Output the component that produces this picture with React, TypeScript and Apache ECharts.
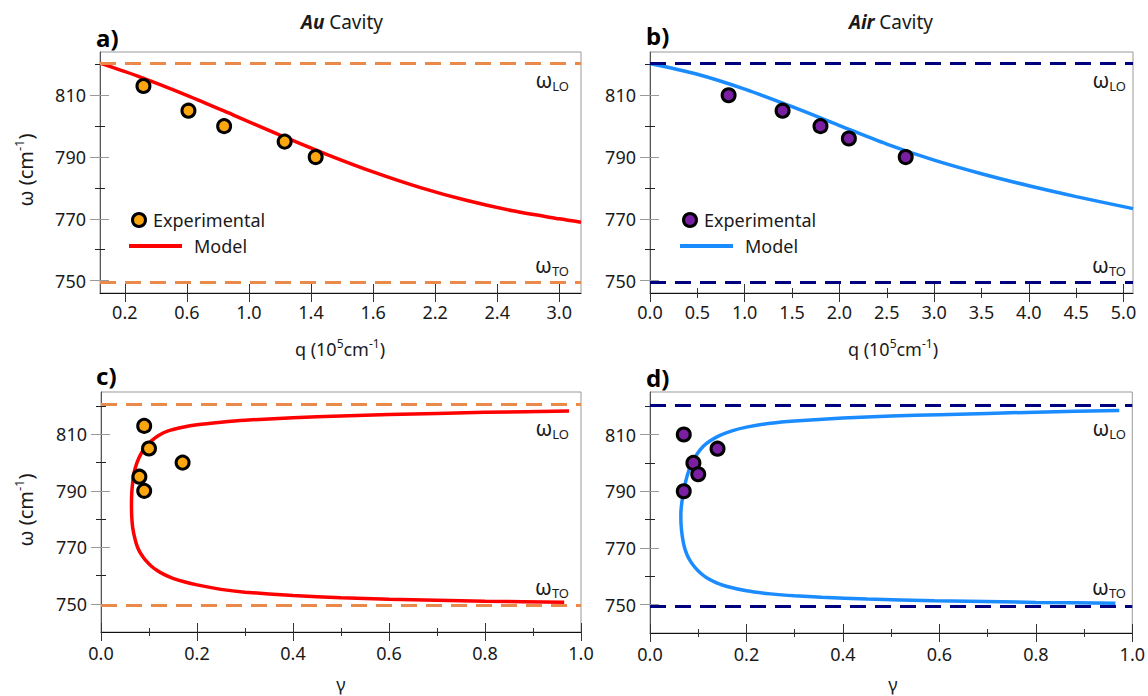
import React, { useEffect, useRef } from "react";
import * as echarts from "echarts";

// Reststrahlen band limits (cm^-1)
const W_LO = 820.5;
const W_TO = 749.5;

// a) Au cavity: frequency vs in-plane wavevector q (10^5 cm^-1)
const auExpQ = [0.32, 0.61, 0.84, 1.23, 1.43];
const auExpW = [813, 805, 800, 795, 790];
const auModelQ = [0.04, 0.3, 0.6, 0.9, 1.2, 1.5, 1.8, 2.1, 2.4, 2.7, 3.0, 3.14];
const auModelW = [820.4, 815.9, 810.0, 803.6, 797.1, 790.9, 785.2, 780.2, 776.0, 772.6, 770.0, 768.9];
const auTickVals = [0.2, 0.6, 1.0, 1.4, 1.8, 2.2, 2.6, 3.0];
const auTickText = ["0.2", "0.6", "1.0", "1.4", "1.6", "2.2", "2.4", "3.0"];

// b) Air cavity: frequency vs q
const airExpQ = [0.83, 1.4, 1.8, 2.1, 2.7];
const airExpW = [810, 805, 800, 796, 790];
const airModelQ = [0, 0.5, 1.0, 1.5, 2.0, 2.5, 3.0, 3.5, 4.0, 4.5, 5.1];
const airModelW = [820.3, 816.8, 812.0, 806.3, 800.2, 794.2, 789.0, 784.6, 780.7, 777.2, 773.3];

// c) Au cavity: frequency vs damping ratio gamma (model traced from upper to lower branch)
const auExpG = [0.09, 0.1, 0.17, 0.08, 0.09];
const auModelG = [
  0.975, 0.8, 0.6, 0.5, 0.4, 0.3, 0.25, 0.2, 0.17, 0.14, 0.12, 0.105, 0.093, 0.083, 0.075,
  0.069, 0.066, 0.064, 0.0635, 0.064, 0.066, 0.07, 0.075, 0.081, 0.088, 0.095, 0.105, 0.117,
  0.13, 0.15, 0.175, 0.2, 0.25, 0.3, 0.4, 0.5, 0.6, 0.8, 0.965,
];
const auModelGW = [
  818.3, 817.8, 817.0, 816.5, 815.9, 815.0, 814.3, 813.4, 812.5, 811.2, 809.6, 807.7, 805.5,
  803.0, 800.0, 796.5, 793.0, 789.0, 785.0, 781.0, 777.0, 773.5, 770.5, 768.3, 766.5, 765.0,
  763.3, 761.8, 760.5, 759.0, 757.7, 756.7, 755.1, 754.1, 752.9, 752.1, 751.6, 750.9, 750.5,
];

// d) Air cavity: frequency vs gamma
const airExpG = [0.07, 0.14, 0.09, 0.1, 0.07];
const airModelG = [
  0.973, 0.8, 0.6, 0.5, 0.4, 0.3, 0.25, 0.2, 0.17, 0.145, 0.125, 0.11, 0.098, 0.088, 0.08,
  0.074, 0.07, 0.066, 0.064, 0.0645, 0.067, 0.071, 0.077, 0.085, 0.095, 0.107, 0.12, 0.138,
  0.16, 0.2, 0.25, 0.3, 0.356, 0.45, 0.59, 0.8, 0.965,
];
const airModelGW = [
  818.5, 817.9, 817.0, 816.5, 815.8, 814.8, 814.0, 812.6, 811.3, 809.7, 807.8, 805.8, 803.2,
  800.2, 797.0, 793.5, 790.0, 786.0, 782.0, 778.0, 774.0, 770.5, 767.5, 765.0, 762.8, 760.8,
  759.2, 757.7, 756.4, 754.9, 753.8, 753.1, 752.6, 752.0, 751.4, 750.8, 750.5,
];

const yLabelVals = [750, 770, 790, 810];
const yMinorVals = [760, 780, 800, 820];
const qAirLabelVals = [0, 0.5, 1, 1.5, 2, 2.5, 3, 3.5, 4, 4.5, 5];
const qAirMajor = [0, 1, 2, 3, 4, 5];
const qAirMinor = [0.5, 1.5, 2.5, 3.5, 4.5];
const gLabelVals = [0, 0.2, 0.4, 0.6, 0.8, 1.0];
const gMinorVals = [0.1, 0.3, 0.5, 0.7, 0.9];

const FONT = "'Noto Sans', 'Open Sans', sans-serif";
const RED = "#ff0000";
const BLUE = "#1a8cff";
const ORANGE = "#e98a4a";
const NAVY = "#00007f";
const GOLD = "#fca60f";
const PURPLE = "#7b1fa2";

const zip = (a: number[], b: number[]) => a.map((v, i) => [v, b[i]]);
const fix1 = (v: number) => v.toFixed(1);

type AxisSpec = {
  min: number;
  max: number;
  labels: number[];
  fmt: (v: number) => string;
  major: number[];
  minor: number[];
  majorColor: string;
  minorColor: string;
  lineColor: string;
  majorOut: number;
  majorIn: number;
  minorLen: number;
  margin: number;
};

// One axis carries the line and labels; three helpers add ticks that cross the axis line.
function axisGroup(dim: "x" | "y", gridIndex: number, s: AxisSpec) {
  const position = dim === "x" ? "bottom" : "left";
  const tickOnly = (values: number[], inside: boolean, length: number, color: string) => ({
    type: "value",
    gridIndex,
    min: s.min,
    max: s.max,
    position,
    axisLine: { show: false, onZero: false },
    axisLabel: { show: false },
    splitLine: { show: false },
    axisTick: { show: true, inside, length, customValues: values, lineStyle: { color, width: 1 } },
  });
  return [
    {
      type: "value",
      gridIndex,
      min: s.min,
      max: s.max,
      position,
      axisLine: { show: true, onZero: false, lineStyle: { color: s.lineColor, width: 1 } },
      axisTick: {
        show: true,
        inside: false,
        length: s.majorOut,
        customValues: s.major,
        lineStyle: { color: s.majorColor, width: 1 },
      },
      axisLabel: {
        customValues: s.labels,
        formatter: s.fmt,
        fontFamily: FONT,
        fontSize: 18,
        color: "#1a1a1a",
        margin: s.margin,
      },
      splitLine: { show: false },
    },
    tickOnly(s.major, true, s.majorIn, s.majorColor),
    tickOnly(s.minor, false, s.minorLen, s.minorColor),
    tickOnly(s.minor, true, s.minorLen, s.minorColor),
  ];
}

const ySpec = (min: number, max: number): AxisSpec => ({
  min,
  max,
  labels: yLabelVals,
  fmt: (v: number) => String(v),
  major: yLabelVals,
  minor: yMinorVals,
  majorColor: "#9a9a9a",
  minorColor: "#222",
  lineColor: "#555",
  majorOut: 10,
  majorIn: 9,
  minorLen: 5,
  margin: 14,
});

const auText = (v: number) => {
  const i = auTickVals.findIndex((t) => Math.abs(t - v) < 1e-6);
  return i >= 0 ? auTickText[i] : "";
};

function panelSeries(
  g: number,
  model: number[][],
  exp: number[][],
  lineColor: string,
  dashColor: string,
  dotColor: string,
  smooth: number
) {
  const xi = g * 4;
  const yi = g * 4;
  return [
    {
      type: "line",
      xAxisIndex: xi,
      yAxisIndex: yi,
      data: [],
      silent: true,
      z: 2,
      markLine: {
        silent: true,
        symbol: ["none", "none"],
        label: { show: false },
        lineStyle: { color: dashColor, width: 3, type: [16, 9] },
        data: [{ yAxis: W_LO }, { yAxis: W_TO }],
      },
    },
    {
      type: "line",
      xAxisIndex: xi,
      yAxisIndex: yi,
      data: model,
      showSymbol: false,
      smooth,
      silent: true,
      z: 3,
      lineStyle: { color: lineColor, width: 3.5 },
    },
    {
      type: "scatter",
      xAxisIndex: xi,
      yAxisIndex: yi,
      data: exp,
      symbol: "circle",
      symbolSize: 13,
      z: 5,
      itemStyle: { color: dotColor, borderColor: "#000", borderWidth: 3, opacity: 1 },
    },
  ];
}

const txt = (text: string, x: number, y: number, extra: any = {}) => ({
  type: "text",
  x,
  y,
  z: 10,
  style: {
    text,
    fill: "#1a1a1a",
    fontFamily: FONT,
    fontSize: 18,
    align: "center",
    verticalAlign: "middle",
    ...extra,
  },
});

const omega = (sub: string, right: number, y: number) =>
  txt(`{w|ω}{s|${sub}}`, right, y, {
    align: "right",
    rich: {
      w: { fontSize: 21, lineHeight: 24, fontFamily: FONT, fill: "#1a1a1a" },
      s: { fontSize: 13, lineHeight: 11, fontFamily: FONT, fill: "#1a1a1a", verticalAlign: "bottom" },
    },
  });

const yName = (y: number) => ({
  type: "text",
  x: 25,
  y,
  rotation: Math.PI / 2,
  z: 10,
  style: {
    text: "{m|ω (cm}{s|-1}{m|)}",
    align: "center",
    verticalAlign: "middle",
    rich: {
      m: { fontSize: 20, lineHeight: 26, fontFamily: FONT, fill: "#1a1a1a" },
      s: { fontSize: 13, lineHeight: 13, fontFamily: FONT, fill: "#1a1a1a", verticalAlign: "top" },
    },
  },
});

const qName = (x: number, y: number) =>
  txt("{m|q (10}{s|5}{m|cm}{s|-1}{m|)}", x, y, {
    rich: {
      m: { fontSize: 18, lineHeight: 24, fontFamily: FONT, fill: "#1a1a1a" },
      s: { fontSize: 12, lineHeight: 12, fontFamily: FONT, fill: "#1a1a1a", verticalAlign: "top" },
    },
  });

const legend = (x: number, dot: string, line: string) => [
  {
    type: "circle",
    shape: { cx: x + 10, cy: 220, r: 6.5 },
    z: 10,
    style: { fill: dot, stroke: "#000", lineWidth: 3 },
  },
  txt("Experimental", x + 24, 220, { align: "left" }),
  {
    type: "line",
    shape: { x1: x, y1: 246, x2: x + 53, y2: 246 },
    z: 10,
    style: { stroke: line, lineWidth: 4 },
  },
  txt("Model", x + 65, 246, { align: "left" }),
];

const title = (name: string, cx: number) =>
  txt(`{b|${name}} {r|Cavity}`, cx, 22, {
    rich: {
      b: { fontSize: 19, fontWeight: "bold", fontStyle: "italic", fontFamily: FONT, fill: "#1a1a1a" },
      r: { fontSize: 19, fontFamily: FONT, fill: "#1a1a1a" },
    },
  });

const panelTag = (t: string, x: number, y: number) =>
  txt(t, x, y, { align: "left", fontSize: 24, fontWeight: "bold", fill: "#000" });

export default function App() {
  const ref = useRef<HTMLDivElement>(null);

  useEffect(() => {
    if (!ref.current) return;
    const chart = echarts.init(ref.current, undefined, { renderer: "svg" });

    const grids = [
      { left: 100, top: 52, width: 481, height: 241 },
      { left: 650, top: 52, width: 483, height: 241 },
      { left: 101, top: 392, width: 480, height: 240 },
      { left: 650, top: 392, width: 483, height: 241 },
    ].map((g) => ({ ...g, show: true, borderColor: "#999", borderWidth: 1, backgroundColor: "#fff" }));

    const xBase = {
      majorColor: "#333",
      minorColor: "#333",
      lineColor: "#111",
      majorOut: 9,
      majorIn: 9,
      minorLen: 4,
      margin: 10,
    };

    const xAxis = [
      ...axisGroup("x", 0, {
        ...xBase,
        min: 0.04,
        max: 3.14,
        labels: auTickVals,
        fmt: auText,
        major: auTickVals,
        minor: [],
      }),
      ...axisGroup("x", 1, {
        ...xBase,
        min: 0,
        max: 5.1,
        labels: qAirLabelVals,
        fmt: fix1,
        major: qAirMajor,
        minor: qAirMinor,
        minorLen: 5,
      }),
      ...axisGroup("x", 2, {
        ...xBase,
        min: 0,
        max: 1,
        labels: gLabelVals,
        fmt: fix1,
        major: gLabelVals,
        minor: gMinorVals,
        margin: 12,
      }),
      ...axisGroup("x", 3, {
        ...xBase,
        min: 0,
        max: 1,
        labels: gLabelVals,
        fmt: fix1,
        major: gLabelVals,
        minor: gMinorVals,
        margin: 12,
      }),
    ];

    const yAxis = [
      ...axisGroup("y", 0, ySpec(746, 824)),
      ...axisGroup("y", 1, ySpec(746, 824)),
      ...axisGroup("y", 2, ySpec(740, 825)),
      ...axisGroup("y", 3, ySpec(740, 825)),
    ];

    const series = [
      ...panelSeries(0, zip(auModelQ, auModelW), zip(auExpQ, auExpW), RED, ORANGE, GOLD, 0.3),
      ...panelSeries(1, zip(airModelQ, airModelW), zip(airExpQ, airExpW), BLUE, NAVY, PURPLE, 0.3),
      ...panelSeries(2, zip(auModelG, auModelGW), zip(auExpG, auExpW), RED, ORANGE, GOLD, 0.2),
      ...panelSeries(3, zip(airModelG, airModelGW), zip(airExpG, airExpW), BLUE, NAVY, PURPLE, 0.2),
    ];

    const graphic = [
      title("Au", 342),
      title("Air", 891),
      panelTag("a)", 96, 37),
      panelTag("b)", 646, 35),
      panelTag("c)", 96, 375),
      panelTag("d)", 646, 377),
      omega("LO", 569, 80),
      omega("TO", 569, 265),
      omega("LO", 1126, 80),
      omega("TO", 1126, 265),
      omega("LO", 569, 428),
      omega("TO", 569, 587),
      omega("LO", 1126, 428),
      omega("TO", 1126, 587),
      yName(170),
      yName(510),
      qName(340, 349),
      qName(893, 349),
      txt("γ", 341, 684),
      txt("γ", 893, 684),
      ...legend(129, GOLD, RED),
      ...legend(680, PURPLE, BLUE),
    ];

    chart.setOption({
      animation: false,
      backgroundColor: "#fff",
      textStyle: { fontFamily: FONT },
      grid: grids,
      xAxis,
      yAxis,
      series,
      graphic,
    } as any);

    return () => chart.dispose();
  }, []);

  return (
    <div
      ref={ref}
      style={{ position: "absolute", left: 0, top: 0, width: 1148, height: 696 }}
    />
  );
}
